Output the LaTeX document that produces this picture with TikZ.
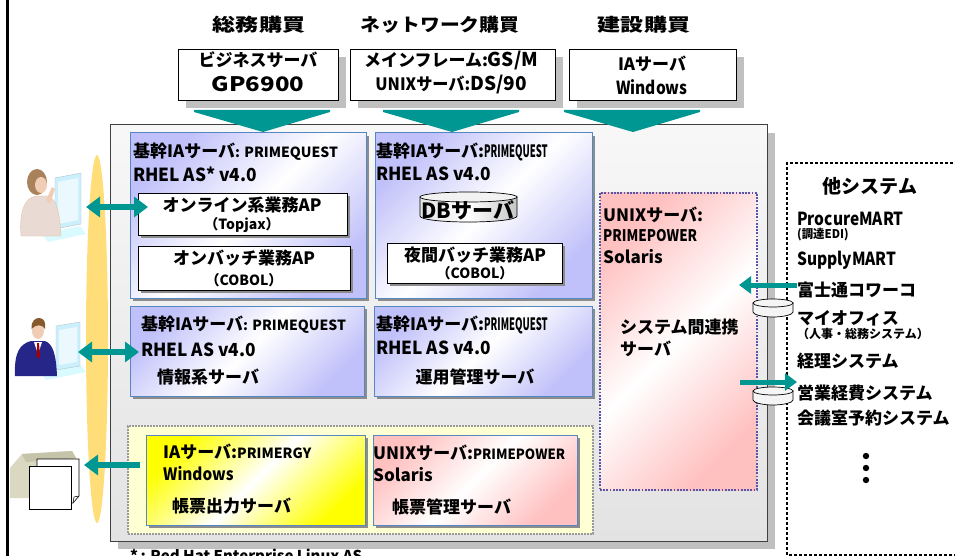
\documentclass[tikz,border=0pt]{standalone}
\usepackage{fontspec}
\usepackage{graphicx}
\setmainfont{Noto Sans CJK JP}
\usetikzlibrary{fit,arrows.meta}

\definecolor{tealA}{RGB}{0,150,145}
\definecolor{lav}{RGB}{192,192,250}
\definecolor{steel}{RGB}{85,135,195}
\definecolor{pinkA}{RGB}{255,192,192}
\definecolor{yelA}{RGB}{255,255,0}
\definecolor{yelL}{RGB}{255,255,212}
\definecolor{gold}{RGB}{255,222,122}
\definecolor{shd}{RGB}{192,192,192}
\definecolor{shdB}{RGB}{140,140,140}
\definecolor{dotblue}{RGB}{85,85,170}
\definecolor{skin}{RGB}{240,205,180}

\newcommand\fz[1]{\fontsize{#1}{#1}\selectfont}
\newcommand\cond[2]{\scalebox{#1}[1]{#2}}

\begin{document}
\begin{tikzpicture}[x=1pt,y=-1pt,
  boxbase/.style={inner sep=0pt, outer sep=0pt},
  topbox/.style={boxbase, draw=black, line width=0.8pt, fill=white},
  panel/.style={boxbase, draw=black!75, line width=1pt,
    top color=white!97!black, bottom color=white!89!black},
  diagfill/.style={top color=#1, bottom color=#1, middle color=white, shading angle=45},
  srvbox/.style={boxbase, draw=steel, line width=1pt, diagfill=#1},
  apbox/.style={boxbase, draw=black, line width=0.8pt, fill=white},
  grpbox/.style={boxbase, draw=gray!80, line width=1.5pt, dash pattern=on 2pt off 1pt, fill=yelL},
  linkbox/.style={boxbase, draw=dotblue, line width=2.4pt, dash pattern=on 1.8pt off 1.4pt, diagfill=pinkA},
  txt/.style={inner sep=0pt, anchor=west, font=\bfseries},
  ctxt/.style={inner sep=0pt, anchor=center, font=\bfseries},
  bigarrow/.style={draw=tealA, line width=6pt, -{Triangle[length=14pt,width=20pt]}},
  dblarrow/.style={draw=tealA, line width=6pt, {Triangle[length=14pt,width=20pt]}-{Triangle[length=14pt,width=20pt]}},
  smallarrow/.style={draw=tealA, line width=5pt, -{Triangle[length=12pt,width=17pt]}},
  chevron/.style={fill=tealA},
  disk/.style={draw=black, line width=0.7pt, fill=gray!8},
  farshadow/.style={fill=shd},
  nearshadow/.style={fill=shdB},
]
\useasboundingbox (0,0) rectangle (955,556);

% left rule and client bus
\draw[line width=3pt] (7,-2) -- (7,560);
\fill[gold] (97,339) ellipse [x radius=11, y radius=184];

% ---------- client icons ----------
% operator (woman)
\node[boxbase, fit={(18,168)(86,246)}] (wm) {};
\fill[blue!10!cyan!15] (42,234) -- (80,226) -- (86,234) -- (48,242) -- cycle;
\fill[cyan!20!white, draw=cyan!25!gray!60, line width=0.4pt] (55,178) -- (81,173) -- (81,224) -- (55,229) -- cycle;
\fill[cyan!8!white] (58,182) -- (78,178) -- (78,220) -- (58,224) -- cycle;
\fill[brown!55!orange!60!black!70] (37,182) ellipse [x radius=10, y radius=13];
\fill[skin] (41,185) ellipse [x radius=6, y radius=8];
\fill[brown!40!pink!80!black!30!white, draw=brown!50, line width=0.3pt]
  (21,236) .. controls (19,210) and (25,198) .. (36,196) -- (48,196)
  .. controls (57,199) and (60,214) .. (61,236) -- cycle;
\fill[skin] (46,200) -- (52,187) -- (55,189) -- (50,204) -- cycle;

% operator (man)
\node[boxbase, fit={(14,313)(78,391)}] (mn) {};
\fill[blue!10!cyan!15] (40,372) -- (80,364) -- (86,372) -- (46,380) -- cycle;
\fill[cyan!20!white, draw=cyan!25!gray!60, line width=0.4pt] (56,326) -- (80,322) -- (80,366) -- (56,370) -- cycle;
\fill[cyan!8!white] (59,330) -- (77,327) -- (77,362) -- (59,365) -- cycle;
\fill[blue!45!black!85] (15,376) .. controls (14,352) and (20,344) .. (31,341) -- (45,341)
  .. controls (53,344) and (56,354) .. (57,376) -- cycle;
\fill[white] (34,342) -- (42,342) -- (38,354) -- cycle;
\fill[red!65!black] (37.2,343) -- (39,343) -- (40,356) -- (38.2,359) -- (36.6,356) -- cycle;
\fill[skin] (38,331) ellipse [x radius=6, y radius=8];
\fill[brown!70!black] (31.5,329) .. controls (31,320) and (36,318) .. (39,318)
  .. controls (44,318) and (46,322) .. (45,329) .. controls (42,324) and (36,324) .. (31.5,329) -- cycle;

% printer with output sheets
\node[boxbase, fit={(10,420)(84,510)}] (pr) {};
\fill[yellow!25!gray!45] (10,498) -- (10,468) -- (22,454) -- (72,451) -- (76,458) -- (76,498) -- cycle;
\fill[yellow!20!gray!65] (22,454) -- (72,451) -- (76,458) -- (26,462) -- cycle;
\draw[fill=white, line width=0.6pt] (37,459) -- (79,459) -- (79,496) -- (73,503) -- (37,503) -- cycle;
\draw[line width=0.5pt] (73,503) -- (74,497) -- (79,496);
\draw[fill=white, line width=0.6pt] (29,466) rectangle (71,509);

% ---------- main server area ----------
\fill[farshadow] (118,133) rectangle (775,549);
\node[panel, fit={(110,125)(767,541)}] (main) {};

% purchasing divisions
\node[ctxt] (t1) at (259,25) {\fz{18}\cond{1.28}{総務購買}};
\node[ctxt] (t2) at (440,25) {\fz{18}\cond{1.1}{ネットワーク購買}};
\node[ctxt] (t3) at (644,25) {\fz{18}\cond{1.28}{建設購買}};

\fill[farshadow] (186,57) rectangle (346,108);
\fill[farshadow] (358,57) rectangle (563,108);
\fill[farshadow] (577,57) rectangle (744,108);
\node[topbox, fit={(178,49)(338,100)}] (g1) {};
\node[topbox, fit={(350,49)(555,100)}] (g2) {};
\node[topbox, fit={(569,49)(736,100)}] (g3) {};
\node[ctxt] (g1a) at (258,60) {\fz{17}ビジネスサーバ};
\node[ctxt] (g1b) at (258,84) {\fz{20}\cond{1.2}{GP6900}};
\node[ctxt] (g2a) at (451,61) {\fz{17}メインフレーム:\fz{19}GS/M};
\node[ctxt] (g2b) at (451,85) {\fz{17}\cond{0.95}{UNIXサーバ:}\fz{19}DS/90};
\node[ctxt] (g3a) at (652,64) {\fz{17}IAサーバ};
\node[ctxt] (g3b) at (652,87) {\fz{18}\cond{0.86}{Windows}};

% delivery chevrons
\fill[chevron] (194,110) -- (330,110) -- (330,112) -- (263,132) -- (194,112) -- cycle;
\fill[chevron] (383,110) -- (519,110) -- (519,112) -- (452,132) -- (383,112) -- cycle;
\fill[chevron] (564,110) -- (700,110) -- (700,112) -- (633,132) -- (564,112) -- cycle;

% core servers
\fill[nearshadow] (133,136) rectangle (369,301);
\fill[nearshadow] (378,136) rectangle (595,301);
\fill[nearshadow] (133,309) rectangle (367,399);
\fill[nearshadow] (377,309) rectangle (595,399);
\node[srvbox=lav, fit={(130,133)(366,298)}] (sA) {};
\node[srvbox=lav, fit={(375,133)(592,298)}] (sB) {};
\node[srvbox=lav, fit={(130,306)(364,396)}] (sC) {};
\node[srvbox=lav, fit={(374,306)(592,396)}] (sD) {};

\node[txt] (sA1) at (133,152) {\fz{17}基幹IAサーバ\fz{14}: PRIMEQUEST};
\node[txt] (sA2) at (133,174) {\fz{18}\cond{0.96}{RHEL AS* v4.0}};
\fill[nearshadow] (141,196) rectangle (350,238);
\fill[nearshadow] (141,249) rectangle (353,293);
\node[apbox, fit={(138,193)(347,235)}] (ap1) {};
\node[ctxt] (ap1a) at (242,205) {\fz{17}オンライン系業務AP};
\node[ctxt] (ap1b) at (242,225) {\fz{14}（Topjax）};
\node[apbox, fit={(138,246)(350,290)}] (ap2) {};
\node[ctxt] (ap2a) at (244,258) {\fz{17}オンバッチ業務AP};
\node[ctxt] (ap2b) at (244,280) {\fz{14}（COBOL）};

\node[txt] (sB1) at (376,152) {\fz{17}基幹IAサーバ:\cond{0.56}{PRIMEQUEST}};
\node[txt] (sB2) at (376,174) {\fz{18}\cond{0.96}{RHEL AS v4.0}};
% database volume
\path[left color=gray!22, right color=gray!45, middle color=white, draw=black, line width=0.7pt]
  (420,197) -- (420,216) .. controls (420,219.5) and (441,222) .. (468.5,222)
  .. controls (496,222) and (517,219.5) .. (517,216) -- (517,197) -- cycle;
\draw[fill=gray!10, line width=0.7pt] (468.5,197) ellipse [x radius=48.5, y radius=5];
\node[ctxt] (db) at (468,210) {\fz{21}DBサーバ};
\fill[nearshadow] (390,246) rectangle (565,286);
\node[apbox, fit={(387,243)(562,283)}] (ap3) {};
\node[ctxt] (ap3a) at (475,255) {\fz{17}夜間バッチ業務AP};
\node[ctxt] (ap3b) at (475,273) {\fz{14}（COBOL）};

\node[txt] (sC1) at (141,325) {\fz{17}基幹IAサーバ\fz{14}: PRIMEQUEST};
\node[txt] (sC2) at (141,350) {\fz{18}\cond{0.96}{RHEL AS v4.0}};
\node[txt] (sC3) at (157,377) {\fz{17}情報系サーバ};

\node[txt] (sD1) at (376,325) {\fz{17}基幹IAサーバ:\cond{0.56}{PRIMEQUEST}};
\node[txt] (sD2) at (376,348) {\fz{18}\cond{0.96}{RHEL AS v4.0}};
\node[ctxt] (sD3) at (475,377) {\fz{17}運用管理サーバ};

% form servers
\node[grpbox, fit={(128,426)(593,534)}] (grp) {};
\fill[nearshadow] (149,438) rectangle (368,528);
\fill[nearshadow] (376,438) rectangle (580,528);
\node[srvbox=yelA, fit={(146,435)(365,525)}] (sE) {};
\node[srvbox=pinkA, fit={(373,435)(577,525)}] (sF) {};
\node[txt] (sE1) at (163,452) {\fz{17}IAサーバ:\fz{14}PRIMERGY};
\node[txt] (sE2) at (163,474) {\fz{17}\cond{0.9}{Windows}};
\node[txt] (sE3) at (172,506) {\fz{17}帳票出力サーバ};
\node[txt] (sF1) at (373,453) {\fz{17}UNIXサーバ:\fz{14}\cond{0.94}{PRIMEPOWER}};
\node[txt] (sF2) at (373,475) {\fz{17}Solaris};
\node[txt] (sF3) at (392,507) {\fz{17}帳票管理サーバ};

% inter-system link server
\node[linkbox, fit={(600,193)(757,490)}] (lk) {};
\node[txt] (lk1) at (603,215) {\fz{17}UNIXサーバ:};
\node[txt] (lk2) at (603,236) {\fz{16}\cond{0.84}{PRIMEPOWER}};
\node[txt] (lk3) at (603,257) {\fz{17}Solaris};
\node[txt] (lk4) at (620,327) {\fz{17}システム間連携};
\node[txt] (lk5) at (620,349) {\fz{17}サーバ};

% ---------- external systems ----------
\draw[line width=2.6pt, dash pattern=on 2.6pt off 2.4pt] (968,163) -- (787,163) -- (787,555) -- (968,555);
\node[ctxt] (os) at (870,186) {\fz{19}他システム};
\node[txt] (x1) at (797,219) {\fz{18}\cond{0.86}{ProcureMART}};
\node[txt] (x1b) at (797,235) {\fz{12}\cond{0.95}{(調達EDI)}};
\node[txt] (x2) at (797,260) {\fz{18}\cond{0.86}{SupplyMART}};
\node[txt] (x3) at (797,290) {\fz{17}富士通コワーコ};
\node[txt] (x4) at (797,318) {\fz{17}マイオフィス};
\node[txt] (x4b) at (797,334) {\fz{12}（人事・総務システム）};
\node[txt] (x5) at (797,361) {\fz{17}経理システム};
\node[txt] (x6) at (797,393) {\fz{17}営業経費システム};
\node[txt] (x7) at (797,418) {\fz{17}会議室予約システム};
\foreach \yy in {456,468,480} \fill (866,\yy) circle [radius=3.2];

% gateway volumes
\path[disk] (753,303) -- (753,312) .. controls (753,314.5) and (762,317) .. (773,317)
  .. controls (784,317) and (793,314.5) .. (793,312) -- (793,303) -- cycle;
\draw[disk] (773,303) ellipse [x radius=20, y radius=4];
\path[disk] (753,391) -- (753,400) .. controls (753,402.5) and (762,405) .. (773,405)
  .. controls (784,405) and (793,402.5) .. (793,400) -- (793,391) -- cycle;
\draw[disk] (773,391) ellipse [x radius=20, y radius=4];

% ---------- connectors ----------
\coordinate (aIn) at (148,207);
\coordinate (cIn) at (139,352);
\coordinate (eOut) at (140,465);
\coordinate (lkIn) at (739,285);
\coordinate (lkOut) at (740,382);
\draw[dblarrow] (wm.east) -- (aIn);
\draw[dblarrow] (mn.east) -- (cIn);
\draw[bigarrow] (eOut) -- (pr.east);
\draw[smallarrow] ([yshift=5pt]x3.west) -- (lkIn);
\draw[smallarrow] (lkOut) -- ([yshift=11pt]x6.west);

% footnote
\node[anchor=base west, inner sep=0pt, font=\bfseries] (fn) at (130,561) {\fz{15}*\,: Red Hat Enterprise Linux AS};
\end{tikzpicture}
\end{document}
